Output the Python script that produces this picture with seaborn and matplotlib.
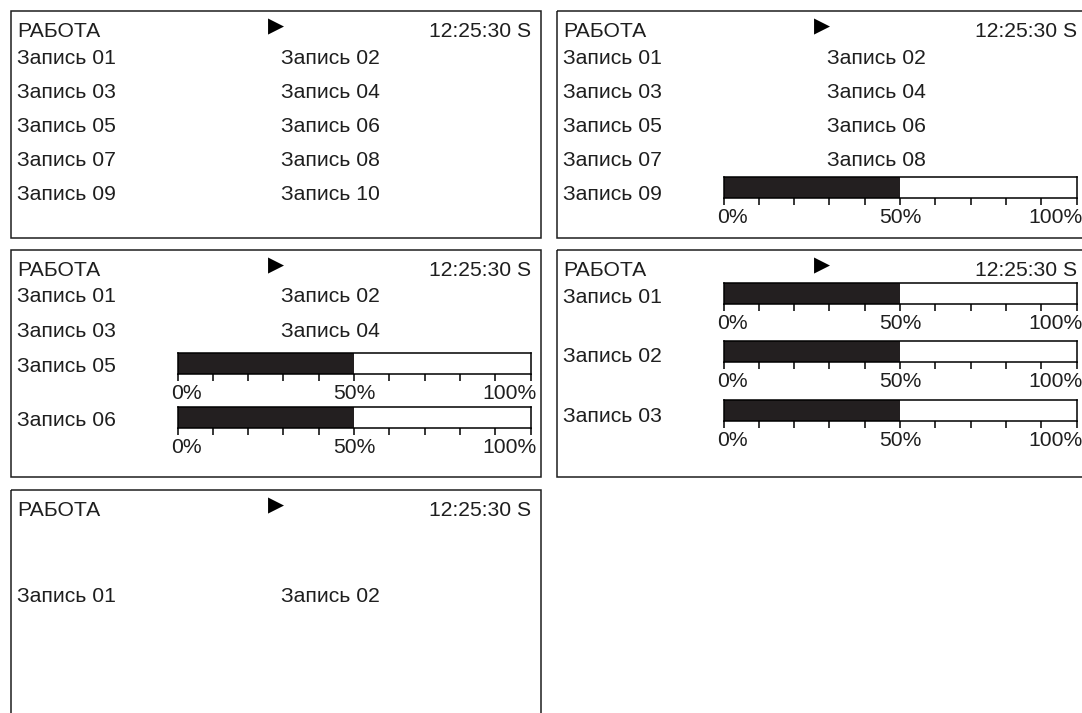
import matplotlib
matplotlib.use("Agg")
import matplotlib.pyplot as plt
from matplotlib.patches import Rectangle
from matplotlib.transforms import ScaledTranslation
from matplotlib.ticker import MultipleLocator, FixedLocator, FixedFormatter
import seaborn as sns
import pandas as pd

# ---------------- data ----------------
header_status = "РАБОТА"
header_time = "12:25:30 S"
play_symbol = "▶"

panel1_records = ["Запись 01", "Запись 02", "Запись 03", "Запись 04", "Запись 05",
                  "Запись 06", "Запись 07", "Запись 08", "Запись 09", "Запись 10"]
panel1_bar_labels = []
panel1_bar_values = []

panel2_records = ["Запись 01", "Запись 02", "Запись 03", "Запись 04",
                  "Запись 05", "Запись 06", "Запись 07", "Запись 08"]
panel2_bar_labels = ["Запись 09"]
panel2_bar_values = [50]

panel3_records = ["Запись 01", "Запись 02", "Запись 03", "Запись 04"]
panel3_bar_labels = ["Запись 05", "Запись 06"]
panel3_bar_values = [50, 50]

panel4_records = []
panel4_bar_labels = ["Запись 01", "Запись 02", "Запись 03"]
panel4_bar_values = [50, 50, 50]

panel5_records = ["Запись 01", "Запись 02"]
panel5_bar_labels = []
panel5_bar_values = []

scale_ticks = [0, 50, 100]
scale_tick_labels = ["0%", "50%", "100%"]
scale_max = 100

# ---------------- layout (pixels) ----------------
W, H = 1082, 713
sns.set_theme(style="white")
plt.rcParams["font.family"] = ["Liberation Sans", "DejaVu Sans"]
FS = 15.2
INK = "#1e1e1e"
BAR_FILL = "#231f20"

fig = plt.figure(figsize=(W / 100, H / 100), dpi=100)
fig.patch.set_facecolor("white")
bg = fig.add_axes([0, 0, 1, 1])
bg.set_xlim(0, W)
bg.set_ylim(H, 0)
bg.axis("off")

PW, PH = 530, 227
col_x = [6, 270]
row_base = [52.5, 87, 121, 155, 189]
BAR_LEFT, BAR_W, BAR_H = 166.5, 353, 21

panels = [
    dict(origin=(11, 11), records=panel1_records,
         bars=panel1_bar_labels, values=panel1_bar_values, bar_base=[], bar_top=[]),
    dict(origin=(557, 11), records=panel2_records,
         bars=panel2_bar_labels, values=panel2_bar_values, bar_base=[189], bar_top=[166]),
    dict(origin=(11, 250), records=panel3_records,
         bars=panel3_bar_labels, values=panel3_bar_values, bar_base=[122, 176], bar_top=[103, 157]),
    dict(origin=(557, 250), records=panel4_records,
         bars=panel4_bar_labels, values=panel4_bar_values, bar_base=[53, 112, 172], bar_top=[33, 91, 150]),
    dict(origin=(11, 490), records=panel5_records,
         bars=panel5_bar_labels, values=panel5_bar_values, bar_base=[], bar_top=[],
         custom_rows=[112]),
]


def px_rect(x, y, w, h):
    return [x / W, 1 - (y + h) / H, w / W, h / H]


for p in panels:
    ox, oy = p["origin"]
    bg.add_patch(Rectangle((ox, oy), PW, PH, fill=False, edgecolor=INK, linewidth=1.1))
    # header
    bg.text(ox + 6, oy + 25.7, header_status, fontsize=FS, color=INK, ha="left", va="baseline")
    bg.text(ox + 257, oy + 15, play_symbol, fontsize=15, color="black", ha="left", va="center",
            family="DejaVu Sans")
    bg.text(ox + 520, oy + 25.7, header_time, fontsize=FS, color=INK, ha="right", va="baseline")
    # plain records in two columns
    rows = p.get("custom_rows", row_base)
    for i, rec in enumerate(p["records"]):
        r, c = divmod(i, 2)
        bg.text(ox + col_x[c], oy + rows[r], rec, fontsize=FS, color=INK, ha="left", va="baseline")
    # progress bars
    for lab, val, base, top in zip(p["bars"], p["values"], p["bar_base"], p["bar_top"]):
        bg.text(ox + col_x[0], oy + base, lab, fontsize=FS, color=INK, ha="left", va="baseline")
        ax = fig.add_axes(px_rect(ox + BAR_LEFT, oy + top, BAR_W, BAR_H))
        df = pd.DataFrame({"record": [lab], "value": [val]})
        sns.barplot(data=df, x="value", y="record", orient="h", ax=ax, color=BAR_FILL,
                    saturation=1, width=1.0, edgecolor="none", linewidth=0)
        ax.set_xlim(0, scale_max)
        ax.set_ylim(0.5, -0.5)
        ax.set_yticks([])
        ax.set_xlabel("")
        ax.set_ylabel("")
        ax.set_facecolor("white")
        for s in ax.spines.values():
            s.set_visible(True)
            s.set_color("black")
            s.set_linewidth(1.1)
        ax.xaxis.set_major_locator(FixedLocator(scale_ticks))
        ax.xaxis.set_major_formatter(FixedFormatter(scale_tick_labels))
        ax.xaxis.set_minor_locator(MultipleLocator(10))
        ax.tick_params(axis="x", which="both", bottom=True, direction="out", length=5.2,
                       width=1.1, color="black", pad=2.0, labelsize=FS, labelcolor=INK)
        for tl, ha, dx in zip(ax.get_xticklabels(), ["left", "center", "right"], [-6, 0, 6]):
            tl.set_ha(ha)
            tl.set_transform(tl.get_transform() + ScaledTranslation(dx / 100, 0, fig.dpi_scale_trans))

fig.savefig("out.png", dpi=100, facecolor="white")
